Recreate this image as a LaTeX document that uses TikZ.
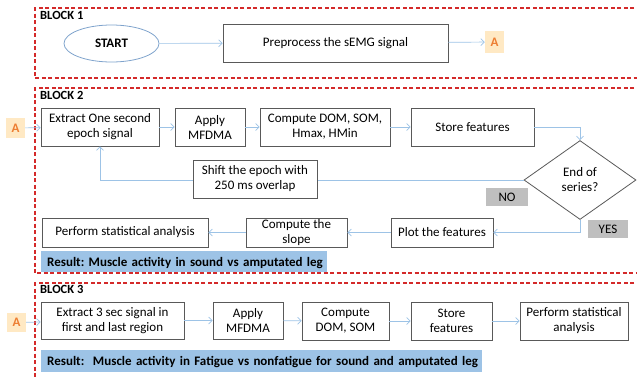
\documentclass[tikz,border=0pt]{standalone}
\usepackage{fontspec}
\setmainfont{Carlito}
\usetikzlibrary{arrows.meta,shapes.geometric}
\frenchspacing

\definecolor{blockred}{HTML}{D42A2A}
\definecolor{boxline}{HTML}{595959}
\definecolor{arrowblue}{HTML}{9DC3E6}
\definecolor{ovalblue}{HTML}{7FA3CC}
\definecolor{resultblue}{HTML}{9DC3E6}
\definecolor{tagfill}{HTML}{FFE9C4}
\definecolor{tagtext}{HTML}{ED7D31}
\definecolor{labelgray}{HTML}{BFBFBF}

\tikzset{
  every node/.style={font=\fontsize{13}{15}\selectfont},
  block/.style={draw=blockred, line width=1.2pt, dash pattern=on 4pt off 2.5pt},
  blocklabel/.style={anchor=west, inner sep=0pt, font=\fontsize{12.5}{15}\selectfont\bfseries},
  proc/.style={draw=boxline, line width=0.8pt, fill=white, align=center, inner sep=0pt},
  tag/.style={fill=tagfill, text=tagtext, inner sep=0pt, minimum width=19pt, minimum height=20pt,
              font=\fontsize{13}{15}\selectfont\bfseries},
  answer/.style={fill=labelgray, inner sep=0pt},
  result/.style={fill=resultblue, inner sep=0pt, anchor=west, text depth=0pt,
                 font=\fontsize{13}{15}\selectfont\bfseries},
  flow/.style={draw=arrowblue, line width=0.7pt, -{Straight Barb[length=3.5pt,width=7pt]}},
}

\begin{document}
\begin{tikzpicture}[x=1pt, y=-1pt]
\useasboundingbox (0,0) rectangle (637,378);

% dashed frames of the three blocks (open on the right)
\draw[block] (660,8) -- (35,8) -- (35,78) -- (660,78);
\draw[block] (660,88) -- (35,88) -- (35,273) -- (660,273);
\draw[block] (660,283) -- (35,283) -- (35,390);

\node[blocklabel] at (40,15) {BLOCK 1};
\node[blocklabel] at (40,95) {BLOCK 2};
\node[blocklabel] at (40,289) {BLOCK 3};

% ---- block 1
\node[ellipse, draw=ovalblue, line width=0.8pt, minimum width=95pt, minimum height=37pt,
      inner sep=0pt, font=\fontsize{13}{15}\selectfont\bfseries] (start) at (111.5,43.5) {START};
\node[proc, minimum width=225pt, minimum height=38pt] (pre) at (335.5,43) {Preprocess the sEMG signal};
\node[tag, minimum height=22pt] (a1) at (494.5,42) {A};
\draw[flow] (start) -- (pre);
\draw[flow] (pre) -- (a1);

% ---- block 2
\node[tag] (a2) at (15.5,128) {A};
\node[proc, minimum width=118pt, minimum height=38pt] (ext) at (100,127) {Extract One second\\epoch signal};
\node[proc, minimum width=70pt, minimum height=38pt] (mfd) at (210,127) {Apply\\MFDMA};
\node[proc, minimum width=130pt, minimum height=38pt] (dom) at (325,127) {Compute DOM, SOM,\\Hmax, HMin};
\node[proc, minimum width=123pt, minimum height=38pt] (store) at (472.5,127) {Store features};
\node[diamond, aspect=1.42, draw=boxline, line width=0.8pt, fill=white, align=center,
      inner sep=0pt, minimum width=112pt, minimum height=79pt] (end) at (580,180) {End of\\series?};
\node[answer, minimum width=42pt, minimum height=18pt] (no) at (507,197) {NO};
\node[answer, minimum width=40pt, minimum height=18pt] (yes) at (608,229) {YES};
\node[proc, minimum width=102pt, minimum height=29pt] (plot) at (442,232.5) {Plot the features};
\node[proc, minimum width=101pt, minimum height=29pt] (slope) at (296.5,232.5) {Compute the\\slope};
\node[proc, minimum width=166pt, minimum height=29pt] (stat) at (125,232.5) {Perform statistical analysis};
\node[result, minimum width=286pt, minimum height=21pt, text width=282pt] (res2) at (41,261.5)
  {\hspace*{4pt}Result: Muscle activity in sound vs amputated leg};

\draw[flow] (a2) -- (ext);
\draw[flow] (ext) -- (mfd);
\draw[flow] (mfd) -- (dom);
\draw[flow] (dom) -- (store);
\draw[flow] (store.east) -| (end.north);
\draw[flow] (end.west) -| (ext.south);
\draw[flow] (end.south) |- (plot.east);
\draw[flow] (plot) -- (slope);
\draw[flow] (slope) -- (stat);
% the shift step sits on the loop-back line
\node[proc, minimum width=124pt, minimum height=38pt] (shift) at (255,179) {Shift the epoch with\\250 ms overlap};

% ---- block 3
\node[tag, minimum height=19pt] (a3) at (16.5,322.5) {A};
\node[proc, minimum width=143pt, minimum height=37pt] (ext3) at (112.5,320.5) {Extract 3 sec signal in\\first and last region};
\node[proc, minimum width=70pt, minimum height=37pt] (mfd3) at (248,320.5) {Apply\\MFDMA};
\node[proc, minimum width=87pt, minimum height=38pt] (dom3) at (345.5,321) {Compute\\DOM, SOM};
\node[proc, minimum width=81pt, minimum height=38pt] (store3) at (451.5,321) {Store\\features};
\node[proc, minimum width=108pt, minimum height=38pt] (stat3) at (574,321) {Perform statistical\\analysis};
\node[result, minimum width=441pt, minimum height=22pt, text width=437pt] (res3) at (41,361)
  {\hspace*{4pt}Result:\ \ Muscle activity in Fatigue vs nonfatigue for sound and amputated leg};

\draw[flow] (a3) -- (ext3);
\draw[flow] (ext3) -- (mfd3);
\draw[flow] (mfd3) -- (dom3);
\draw[flow] (dom3) -- (store3);
\draw[flow] (store3) -- (stat3);
\end{tikzpicture}
\end{document}
